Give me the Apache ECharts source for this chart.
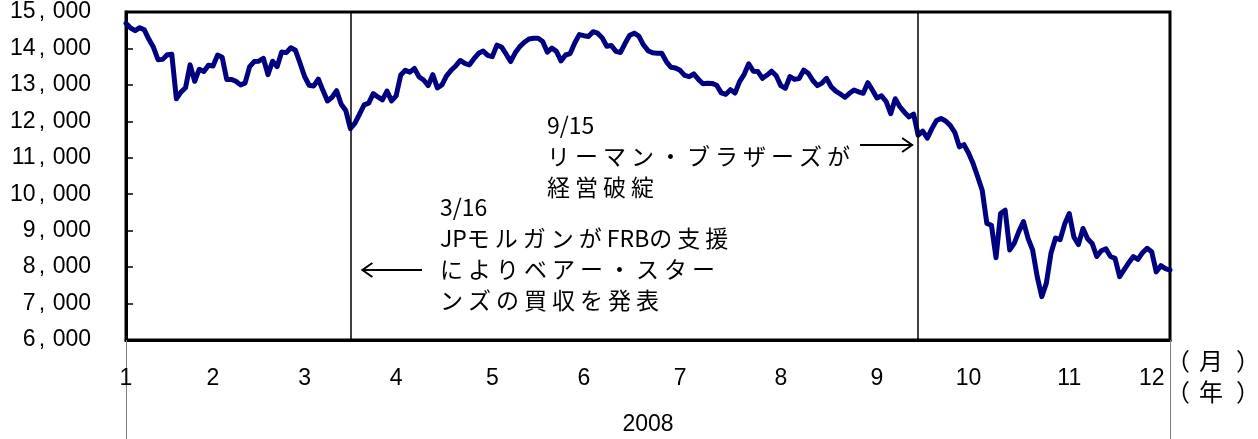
<!DOCTYPE html>
<html>
<head>
<meta charset="utf-8">
<script src="https://cdn.jsdelivr.net/npm/echarts@6/dist/echarts.min.js"></script>
<style>
  html, body { margin: 0; padding: 0; background: #fff; }
  #chart { width: 1258px; height: 439px; }
</style>
</head>
<body>
<div id="chart"></div>
<script>
// 日経平均株価 2008年 営業日ごとの終値
const jan = [14690, 14560, 14487, 14570, 14510, 14250, 14030, 13690, 13700, 13830, 13840, 12620, 12800, 12920, 13550, 13100, 13430, 13370, 13540];
const feb = [13520, 13820, 13760, 13150, 13150, 13100, 13000, 13050, 13500, 13640, 13650, 13730, 13280, 13650, 13500, 13900, 13885, 14020, 13950, 13600];
const mar = [13230, 12990, 12970, 13160, 12850, 12560, 12660, 12840, 12470, 12300, 11800, 11950, 12200, 12450, 12500, 12760, 12670, 12590, 12830, 12560];
const apr = [12700, 13270, 13400, 13350, 13450, 13220, 13134, 12980, 13280, 12920, 13000, 13250, 13400, 13520, 13670, 13590, 13550, 13720, 13866, 13930, 13810];
const may = [13775, 14090, 14040, 13850, 13640, 13880, 14050, 14170, 14260, 14280, 14280, 14190, 13900, 14010, 13920, 13660, 13820, 13860, 14150, 14380];
const jun = [14350, 14330, 14460, 14420, 14290, 14060, 14080, 13920, 13890, 14140, 14360, 14420, 14340, 14100, 13940, 13880, 13866, 13866, 13640, 13485, 13465];
const jul = [13400, 13260, 13225, 13300, 13150, 13030, 13043, 13040, 12990, 12780, 12740, 12870, 12775, 13090, 13290, 13580, 13375, 13365, 13180, 13270, 13375, 13250];
const aug = [12980, 12906, 13230, 13150, 13175, 13405, 13320, 13120, 12980, 13050, 13180, 12950, 12830, 12750, 12660, 12770, 12860, 12810, 12770, 13060, 12860];
const sep = [12640, 12700, 12545, 12210, 12620, 12400, 12250, 12120, 12200, 11620, 11730, 11540, 11800, 12020, 12080, 12010, 11890, 11700, 11300, 11360];
const oct = [11130, 10840, 10480, 10100, 9200, 9150, 8260, 9470, 9560, 8470, 8660, 8980, 9250, 8790, 8470, 7740, 7190, 7560, 8380, 8800, 8750, 9180];
const nov = [9470, 8830, 8620, 9060, 8780, 8650, 8290, 8450, 8500, 8290, 8240, 7740, 7930, 8120, 8290, 8210, 8395, 8516];
const dec = [8420, 7870, 8040, 7960, 7920];

const months = [jan, feb, mar, apr, may, jun, jul, aug, sep, oct, nov, dec];
const monthLabels = ['1', '2', '3', '4', '5', '6', '7', '8', '9', '10', '11', '12'];
const yearLabels = ['2008'];
const yMin = 6000, yMax = 15000, yStep = 1000;

// 出来事（営業日インデックス）
const eventIdx = [49, 173];
const note316 = ['3/16', 'JPモルガンがFRBの支援', 'によりベアー・スター', 'ンズの買収を発表'];
const note915 = ['9/15', 'リーマン・ブラザーズが', '経営破綻'];

const values = [].concat(...months);
const categories = values.map((_, i) => String(i));
const monthStart = [];
let acc = 0;
months.forEach(m => { monthStart.push(acc); acc += m.length; });

const numFont = '"Liberation Sans", Arial, sans-serif';
const jpFont = '"Noto Sans CJK JP", sans-serif';

// 全角文字は一定ピッチで並べる
function spaced(lines) {
  return lines.map(l => Array.from(l).map(ch =>
    (ch.charCodeAt(0) < 0x100 ? '{a|' : '{f|') + ch + '}').join('')).join('\n');
}
const noteRich = {
  a: { fontSize: 23, fontFamily: jpFont, color: '#000', lineHeight: 31, align: 'left' },
  f: { fontSize: 23, fontFamily: jpFont, color: '#000', lineHeight: 31, width: 28, align: 'left' }
};

const chart = echarts.init(document.getElementById('chart'));

chart.setOption({
  animation: false,
  backgroundColor: '#fff',
  grid: {
    left: 126, right: 88, top: 12, bottom: 99,
    show: true, borderColor: '#000', borderWidth: 3,
    outerBoundsMode: 'none'
  },
  xAxis: [
    {
      type: 'category',
      data: categories,
      boundaryGap: false,
      axisLine: { lineStyle: { color: '#000', width: 3 } },
      axisTick: { show: false },
      splitLine: { show: false },
      axisLabel: {
        interval: (i) => monthStart.includes(i),
        formatter: (v, i) => monthLabels[monthStart.indexOf(i)],
        margin: 27,
        fontSize: 23,
        fontFamily: numFont,
        color: '#000'
      }
    },
    {
      type: 'category',
      data: yearLabels,
      position: 'bottom',
      boundaryGap: true,
      axisLine: { show: false },
      axisTick: { show: true, length: 99, lineStyle: { color: '#808080', width: 1 } },
      splitLine: { show: false },
      axisLabel: { margin: 73, fontSize: 23, fontFamily: numFont, color: '#000' }
    }
  ],
  yAxis: {
    type: 'value',
    min: yMin,
    max: yMax,
    interval: yStep,
    axisLine: { show: true, lineStyle: { color: '#000', width: 3 } },
    axisTick: { show: true, inside: true, length: 7, lineStyle: { color: '#000', width: 1.5 } },
    splitLine: { show: false },
    axisLabel: {
      margin: 35,
      formatter: (v) => {
        const s = v.toLocaleString('en-US').split(',');
        return '{d|' + s[0] + '}{c|,}{d|' + s[1] + '}';
      },
      rich: {
        d: { fontSize: 23, fontFamily: numFont, color: '#000', align: 'left' },
        c: { fontSize: 23, fontFamily: numFont, color: '#000', width: 14, align: 'left', padding: [0, 0, 0, 3] }
      }
    }
  },
  series: [{
    type: 'line',
    data: values,
    symbol: 'none',
    lineStyle: { color: '#000080', width: 5, cap: 'round', join: 'round' },
    markLine: {
      silent: true,
      symbol: ['none', 'none'],
      label: { show: false },
      lineStyle: { color: '#000', width: 1.5, type: 'solid' },
      data: eventIdx.map(i => ({ xAxis: i }))
    }
  }]
});

// 注記と矢印
const x316 = chart.convertToPixel({ xAxisIndex: 0 }, eventIdx[0]);
const x915 = chart.convertToPixel({ xAxisIndex: 0 }, eventIdx[1]);
const arrowStyle = { stroke: '#000', lineWidth: 2, fill: null };
const tipL = x316 + 12, tipR = x915 - 6;

const parenRich = {
  p: { fontSize: 24, fontFamily: jpFont, color: '#000', width: 33, lineHeight: 30, align: 'left' },
  k: { fontSize: 24, fontFamily: jpFont, color: '#000', width: 37, lineHeight: 30, align: 'left' },
  q: { fontSize: 24, fontFamily: jpFont, color: '#000', lineHeight: 30, align: 'left' }
};

chart.setOption({
  graphic: [
    { type: 'text', left: 547, top: 110, style: { text: spaced(note915), rich: noteRich, fontSize: 23, fontFamily: jpFont, lineHeight: 31 } },
    { type: 'text', left: 440, top: 192, style: { text: spaced(note316), rich: noteRich, fontSize: 23, fontFamily: jpFont, lineHeight: 31 } },
    { type: 'polyline', shape: { points: [[860, 145], [tipR, 145]] }, style: arrowStyle },
    { type: 'polyline', shape: { points: [[tipR - 10, 138], [tipR, 145], [tipR - 10, 152]] }, style: arrowStyle },
    { type: 'polyline', shape: { points: [[422, 270], [tipL, 270]] }, style: arrowStyle },
    { type: 'polyline', shape: { points: [[tipL + 10, 263], [tipL, 270], [tipL + 10, 277]] }, style: arrowStyle },
    { type: 'text', left: 1166, top: 349, style: { text: '{p|（}{k|月}{q|）}', rich: parenRich } },
    { type: 'text', left: 1166, top: 380, style: { text: '{p|（}{k|年}{q|）}', rich: parenRich } }
  ]
});
</script>
</body>
</html>
